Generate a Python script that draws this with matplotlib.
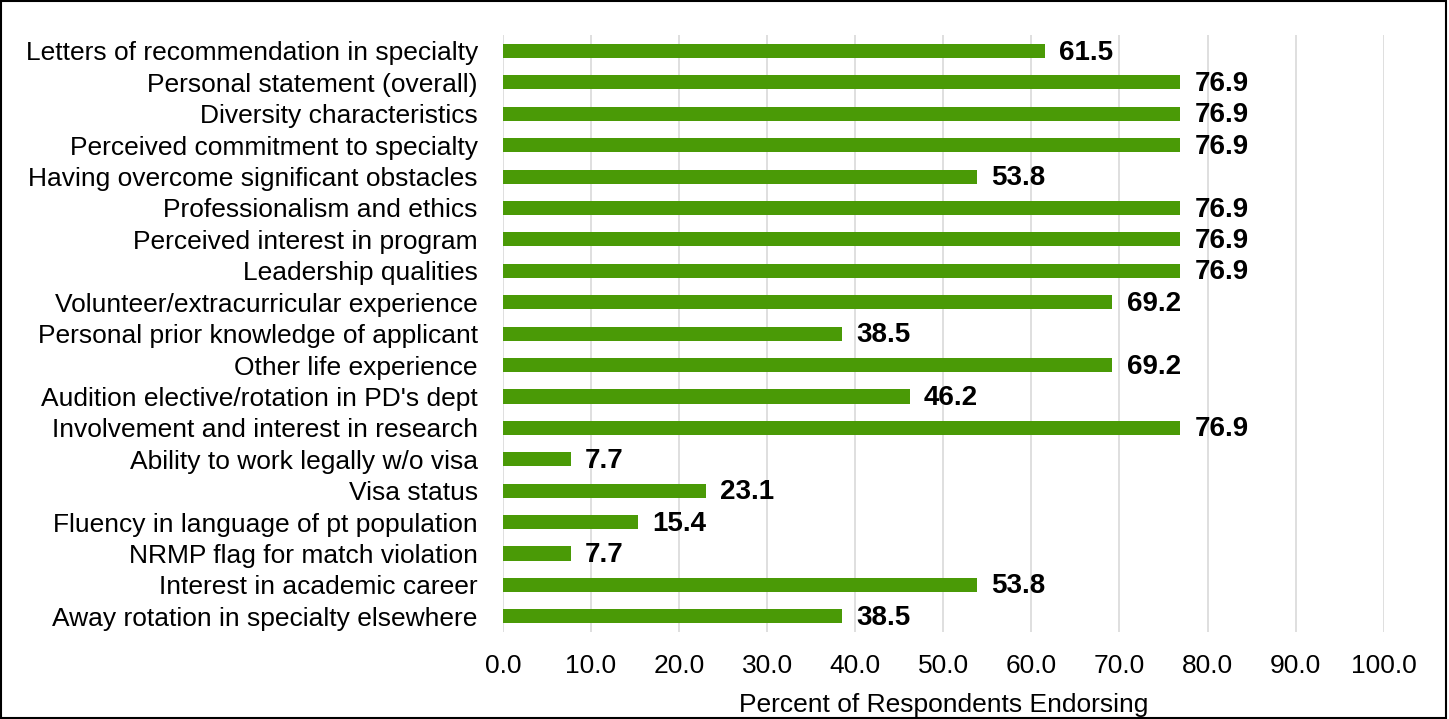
import matplotlib
matplotlib.use("Agg")
import matplotlib.pyplot as plt
from matplotlib.patches import Rectangle

plt.rcParams['font.family'] = ['Liberation Sans', 'DejaVu Sans']

categories = [
    "Letters of recommendation in specialty",
    "Personal statement (overall)",
    "Diversity characteristics",
    "Perceived commitment to specialty",
    "Having overcome significant obstacles",
    "Professionalism and ethics",
    "Perceived interest in program",
    "Leadership qualities",
    "Volunteer/extracurricular experience",
    "Personal prior knowledge of applicant",
    "Other life experience",
    "Audition elective/rotation in PD's dept",
    "Involvement and interest in research",
    "Ability to work legally w/o visa",
    "Visa status",
    "Fluency in language of pt population",
    "NRMP flag for match violation",
    "Interest in academic career",
    "Away rotation in specialty elsewhere",
]
values = [61.5, 76.9, 76.9, 76.9, 53.8, 76.9, 76.9, 76.9, 69.2, 38.5,
          69.2, 46.2, 76.9, 7.7, 23.1, 15.4, 7.7, 53.8, 38.5]
xticks = [0, 10, 20, 30, 40, 50, 60, 70, 80, 90, 100]
xtick_labels = ["0.0", "10.0", "20.0", "30.0", "40.0", "50.0", "60.0", "70.0", "80.0", "90.0", "100.0"]

FS = 19

fig = plt.figure(figsize=(14.49, 7.19), dpi=100)
ax = fig.add_axes([0.347, 0.121, 0.608, 0.830])

y = list(range(len(categories)))
ax.barh(y, values, height=0.45, color="#4a9a06", zorder=3)
for yi, v in zip(y, values):
    ax.text(v + 1.6, yi + 0.05, f"{v:.1f}", va="center", ha="left",
            fontsize=20, fontweight="bold", color="black", zorder=4)

ax.set_ylim(len(categories) - 0.5, -0.5)
ax.set_xlim(0, 100)
ax.set_yticks(y)
ax.set_yticklabels(categories, fontsize=FS)
ax.set_xticks(xticks)
ax.set_xticklabels(xtick_labels, fontsize=FS)
ax.tick_params(axis="both", length=0)
ax.tick_params(axis="y", pad=18)
ax.tick_params(axis="x", pad=16)
ax.xaxis.grid(True, color="#d9d9d9", linewidth=1.2, zorder=0)
for s in ax.spines.values():
    s.set_visible(False)
ax.set_xlabel("Percent of Respondents Endorsing", fontsize=FS, labelpad=10.5)

fig.patches.append(Rectangle((0.001, 0.001), 0.997, 0.997, transform=fig.transFigure,
                             fill=False, edgecolor="black", linewidth=1.5))

fig.savefig("out.png", dpi=100)
